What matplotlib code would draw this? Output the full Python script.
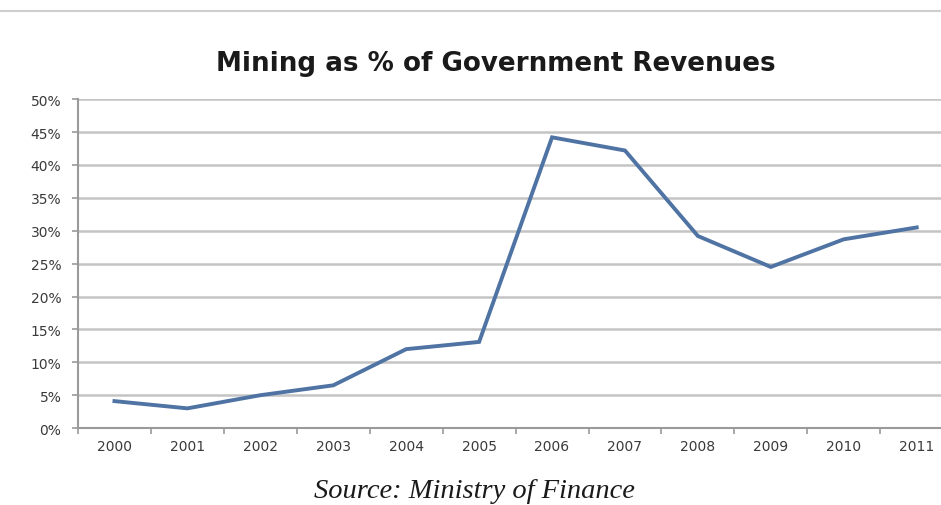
import matplotlib
matplotlib.use("Agg")
import matplotlib.pyplot as plt
from matplotlib.lines import Line2D
import numpy as np

years = ["2000", "2001", "2002", "2003", "2004", "2005", "2006", "2007", "2008", "2009", "2010", "2011"]
mining_pct = [4.1, 3.0, 5.0, 6.5, 12.0, 13.1, 44.2, 42.2, 29.2, 24.5, 28.7, 30.5]
ytick_vals = [0, 5, 10, 15, 20, 25, 30, 35, 40, 45, 50]
ytick_labels = [f"{v}%" for v in ytick_vals]

fig = plt.figure(figsize=(9.41, 5.06), dpi=100)
fig.patch.set_facecolor("white")

ax = fig.add_axes([0.0829, 0.152, 0.93, 0.650])
x = np.arange(len(years))
ax.plot(x, mining_pct, color="#4f73a3", lw=2.8, solid_joinstyle="miter", zorder=3)

ax.set_xlim(-0.5, len(years) - 0.5)
ax.set_ylim(0, 50)
ax.set_yticks(ytick_vals)
ax.set_yticklabels(ytick_labels)
ax.set_xticks(x)
ax.set_xticklabels(years)
ax.set_xticks(np.arange(-0.5, len(years) + 0.5, 1), minor=True)

ax.grid(axis="y", color="#c4c4c4", lw=1.8, zorder=1)
ax.set_axisbelow(True)
for s in ["top", "right"]:
    ax.spines[s].set_visible(False)
ax.spines["left"].set_color("#9a9a9a")
ax.spines["left"].set_linewidth(1.5)
ax.spines["bottom"].set_color("#9a9a9a")
ax.spines["bottom"].set_linewidth(1.5)

ax.tick_params(axis="x", which="major", length=0, pad=8, labelsize=10, labelcolor="#3a3a3a")
ax.tick_params(axis="x", which="minor", length=4, color="#9a9a9a", width=1.2)
ax.tick_params(axis="y", length=4, color="#9a9a9a", width=1.2, pad=8, labelsize=10, labelcolor="#3a3a3a")
for lab in ax.get_xticklabels() + ax.get_yticklabels():
    lab.set_family("DejaVu Sans")

fig.text(0.527, 0.873, "Mining as % of Government Revenues", ha="center", va="center",
         fontsize=18.8, fontweight="bold", family="DejaVu Sans", color="#1a1a1a")
fig.text(0.504, 0.016, "Source: Ministry of Finance", ha="center", va="baseline",
         fontsize=20.5, style="italic", family="Liberation Serif", color="#1a1a1a")

fig.add_artist(Line2D([0.0, 1.0], [0.976, 0.976], transform=fig.transFigure,
                      color="#cfcfcf", lw=1.5))

fig.savefig("out.png", dpi=100)
